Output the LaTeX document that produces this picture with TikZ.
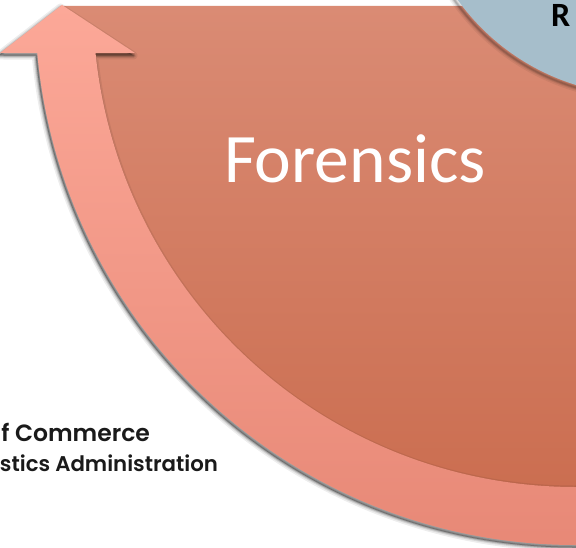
\documentclass[tikz,border=0pt]{standalone}
\usepackage{fontspec}
\setmainfont{Carlito}
\newfontfamily\gfont{Poppins SemiBold}
\definecolor{pietop}{HTML}{DA8B74}
\definecolor{piebot}{HTML}{CA6C4E}
\definecolor{arrtop}{HTML}{FCA898}
\definecolor{arrbot}{HTML}{E78876}
\definecolor{circfill}{HTML}{A6BECB}
\definecolor{inkdark}{HTML}{1A1A1A}
\tikzset{
  lbl/.style={inner sep=0pt, outer sep=0pt},
  arrowpath/.style={insert path={
    (272:541) arc[start angle=272, end angle=185.2, radius=541]
    -- (-576,-49) -- (-514,-1) -- (-441,-49)
    -- (185.8:483) arc[start angle=185.8, end angle=272, radius=483] -- cycle}}
}
\begin{document}
\begin{tikzpicture}[x=1pt,y=1pt]
\useasboundingbox (0,0) rectangle (576,-548);
\clip (0,0) rectangle (576,-548);
\fill[white] (0,0) rectangle (576,-548);
% pie sector
\shade[top color=pietop, bottom color=piebot] (576,-6) -- (60,-6) arc[start angle=180, end angle=270, radius=516] -- cycle;
% shadow of blue circle
\foreach \w/\o in {8/0.06, 5/0.08, 3/0.1, 1.5/0.12}{
  \draw[black, opacity=\o, line width=\w pt] (641,131) circle[radius=228];
}
% blue circle
\fill[circfill] (643,133) circle[radius=228];
% curved arrow with soft shadow
\begin{scope}[shift={(576,-4)}]
\begin{scope}[shift={(-1.5,-2.5)}]
\foreach \w/\o in {8/0.07, 5/0.09, 3/0.12, 1.5/0.15}{
  \draw[black, opacity=\o, line width=\w pt, line join=round, arrowpath];
}
\fill[black, opacity=0.3, arrowpath];
\end{scope}
\shade[top color=arrtop, bottom color=arrbot, arrowpath];
\end{scope}
% texts
\node[lbl, anchor=base west, text=white, font=\fontsize{69.5}{69.5}\selectfont] (forensics) at (224,-183) {Forensics};
\node[lbl, anchor=base west, text=black, font=\bfseries\fontsize{34}{34}\selectfont] (rlabel) at (551,-27) {R};
\node[lbl, anchor=base east, text=inkdark, font=\gfont\fontsize{23.5}{23.5}\selectfont] (line1) at (150,-441) {f Commerce};
\node[lbl, anchor=base east, text=inkdark, font=\gfont\fontsize{21.3}{21.3}\selectfont] (line2) at (218,-471) {stics Administration};
\end{tikzpicture}
\end{document}
